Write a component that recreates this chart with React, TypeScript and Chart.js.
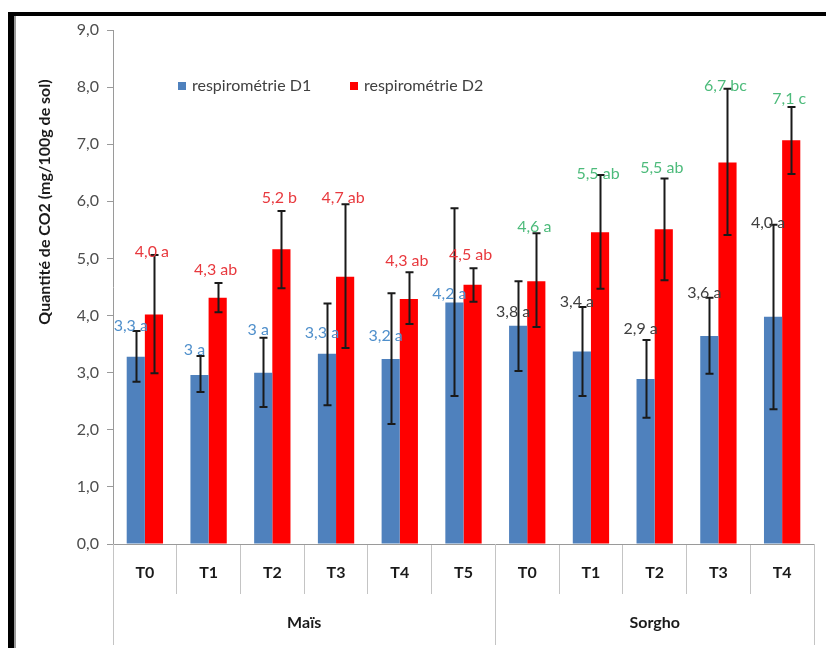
import React, { useEffect, useRef } from "react";
import { Chart, registerables } from "chart.js";

Chart.register(...registerables);

// ---- data ----
const treatments = ["T0", "T1", "T2", "T3", "T4", "T5", "T0", "T1", "T2", "T3", "T4"];
const groupNames = ["Maïs", "Sorgho"];
const groupOfCategory = [0, 0, 0, 0, 0, 0, 1, 1, 1, 1, 1];
const seriesNames = ["respirométrie D1", "respirométrie D2"];
const d1Values = [3.28, 2.96, 3.0, 3.33, 3.24, 4.23, 3.82, 3.37, 2.89, 3.64, 3.98];
const d2Values = [4.02, 4.31, 5.16, 4.68, 4.29, 4.54, 4.6, 5.46, 5.51, 6.68, 7.07];
const d1ErrLow = [2.84, 2.66, 2.4, 2.43, 2.1, 2.59, 3.03, 2.59, 2.21, 2.98, 2.36];
const d1ErrHigh = [3.73, 3.29, 3.61, 4.21, 4.39, 5.88, 4.6, 4.15, 3.57, 4.31, 5.59];
const d2ErrLow = [2.99, 4.06, 4.48, 3.43, 3.85, 4.24, 3.8, 4.47, 4.62, 5.41, 6.48];
const d2ErrHigh = [5.06, 4.57, 5.83, 5.95, 4.76, 4.83, 5.44, 6.46, 6.4, 7.97, 7.65];
const d1Labels = ["3,3 a", "3 a", "3 a", "3,3 a", "3,2 a", "4,2 a", "3,8 a", "3,4 a", "2,9 a", "3,6 a", "4,0 a"];
const d2Labels = ["4,0 a", "4,3 ab", "5,2 b", "4,7 ab", "4,3 ab", "4,5 ab", "4,6 a", "5,5 ab", "5,5 ab", "6,7 bc", "7,1 c"];
const d1LabelAt = [3.82, 3.4, 3.75, 3.7, 3.64, 4.38, 4.06, 4.24, 3.77, 4.4, 5.62];
const d2LabelAt = [5.11, 4.8, 6.06, 6.06, 4.96, 5.06, 5.55, 6.48, 6.58, 8.02, 7.79];
const yMin = 0;
const yMax = 9;
const yStep = 1;
const yTitle = "Quantité de CO2 (mg/100g de sol)";

// ---- styles ----
const FONT = "Lato, 'Open Sans', sans-serif";
const BAR_COLORS = ["#4F81BD", "#FF0000"];
const LABEL_COLORS = [
  ["#4F8FCB", "#E8393E"], // Maïs: D1, D2
  ["#404040", "#4DBB7B"], // Sorgho: D1, D2
];
const AXIS_COLOR = "#9A9A9A";
const DIVIDER_COLOR = "#C4C4C4";

const errData = [
  [d1ErrLow, d1ErrHigh],
  [d2ErrLow, d2ErrHigh],
];
const labelData = [
  [d1Labels, d1LabelAt],
  [d2Labels, d2LabelAt],
];

const decorPlugin = {
  id: "decor",
  afterDatasetsDraw(chart: any) {
    const ctx = chart.ctx;
    const y = chart.scales.y;
    ctx.save();
    // error bars
    for (let d = 0; d < 2; d++) {
      const meta = chart.getDatasetMeta(d);
      meta.data.forEach((bar: any, i: number) => {
        const x = Math.round(bar.x) + 0.5;
        const yl = y.getPixelForValue(errData[d][0][i]);
        const yh = y.getPixelForValue(errData[d][1][i]);
        ctx.strokeStyle = "#1A1A1A";
        ctx.lineWidth = 2;
        ctx.beginPath();
        ctx.moveTo(x, yl);
        ctx.lineTo(x, yh);
        ctx.moveTo(x - 4, yl);
        ctx.lineTo(x + 4, yl);
        ctx.moveTo(x - 4, yh);
        ctx.lineTo(x + 4, yh);
        ctx.stroke();
      });
    }
    // value labels
    ctx.font = `16px ${FONT}`;
    ctx.textAlign = "center";
    ctx.textBaseline = "middle";
    for (let d = 0; d < 2; d++) {
      const meta = chart.getDatasetMeta(d);
      meta.data.forEach((bar: any, i: number) => {
        const g = groupOfCategory[i];
        ctx.fillStyle = LABEL_COLORS[g][d];
        const dx = d === 0 ? -5 : -2;
        ctx.fillText(labelData[d][0][i], bar.x + dx, y.getPixelForValue(labelData[d][1][i]));
      });
    }
    ctx.restore();
  },
  afterDraw(chart: any) {
    const ctx = chart.ctx;
    const x = chart.scales.x;
    const area = chart.chartArea;
    ctx.save();
    // category labels
    ctx.font = `bold 16px ${FONT}`;
    ctx.fillStyle = "#1A1A1A";
    ctx.textAlign = "center";
    ctx.textBaseline = "middle";
    treatments.forEach((t, i) => {
      ctx.fillText(t, x.getPixelForValue(i), area.bottom + 29);
    });
    // group dividers + labels
    const boundaries: number[] = [area.left];
    for (let i = 1; i < treatments.length; i++) {
      if (groupOfCategory[i] !== groupOfCategory[i - 1]) {
        boundaries.push((x.getPixelForValue(i - 1) + x.getPixelForValue(i)) / 2);
      }
    }
    boundaries.push(area.right);
    ctx.strokeStyle = DIVIDER_COLOR;
    ctx.lineWidth = 1;
    ctx.beginPath();
    boundaries.forEach((b) => {
      const bx = Math.round(b) + 0.5;
      ctx.moveTo(bx, area.bottom);
      ctx.lineTo(bx, area.bottom + 101);
    });
    ctx.stroke();
    groupNames.forEach((name, gi) => {
      ctx.fillText(name, (boundaries[gi] + boundaries[gi + 1]) / 2, area.bottom + 79);
    });
    // y axis title
    ctx.save();
    ctx.translate(45, 202);
    ctx.rotate(-Math.PI / 2);
    ctx.font = `bold 16px ${FONT}`;
    ctx.fillStyle = "#1A1A1A";
    ctx.fillText(yTitle, 0, 0);
    ctx.restore();
    // legend
    ctx.font = `16px ${FONT}`;
    ctx.textAlign = "left";
    const legendX = [178, 350];
    const legendY = 86;
    seriesNames.forEach((s, k) => {
      ctx.fillStyle = BAR_COLORS[k];
      ctx.fillRect(legendX[k], legendY - 4, 8, 8);
      ctx.fillStyle = "#404040";
      ctx.fillText(s, legendX[k] + 14, legendY);
    });
    ctx.restore();
  },
};

export default function App() {
  const ref = useRef<HTMLCanvasElement | null>(null);
  useEffect(() => {
    if (!ref.current) return;
    const chart = new Chart(ref.current, {
      type: "bar",
      data: {
        labels: treatments,
        datasets: [
          { label: seriesNames[0], data: d1Values, backgroundColor: BAR_COLORS[0], borderWidth: 0 },
          { label: seriesNames[1], data: d2Values, backgroundColor: BAR_COLORS[1], borderWidth: 0 },
        ],
      },
      options: {
        animation: false,
        responsive: false,
        devicePixelRatio: 1,
        layout: { padding: { left: 0, top: 30, right: 12, bottom: 0 } },
        plugins: { legend: { display: false }, tooltip: { enabled: false } },
        datasets: { bar: { categoryPercentage: 0.57, barPercentage: 1 } },
        scales: {
          x: {
            type: "category",
            offset: true,
            ticks: { display: false },
            grid: {
              offset: true,
              drawOnChartArea: false,
              drawTicks: true,
              tickLength: 50,
              color: DIVIDER_COLOR,
            },
            border: { display: true, color: AXIS_COLOR, width: 1 },
            afterFit: (s: any) => {
              s.height = 104;
            },
          },
          y: {
            min: yMin,
            max: yMax,
            ticks: {
              stepSize: yStep,
              padding: 8,
              color: "#4D4D4D",
              font: { family: FONT, size: 16 },
              callback: (v: any) => Number(v).toFixed(1).replace(".", ","),
            },
            grid: {
              drawOnChartArea: false,
              drawTicks: true,
              tickLength: 6,
              color: AXIS_COLOR,
            },
            border: { display: true, color: AXIS_COLOR, width: 1 },
            afterFit: (s: any) => {
              s.width = 113;
            },
          },
        },
      },
      plugins: [decorPlugin],
    });
    return () => chart.destroy();
  }, []);

  return (
    <div style={{ position: "fixed", left: 0, top: 0, width: 826, height: 648, background: "#fff", overflow: "hidden" }}>
      <canvas ref={ref} width={826} height={648} style={{ position: "absolute", left: 0, top: 0, width: 826, height: 648 }} />
      <div style={{ position: "absolute", left: 8, top: 12, width: 818, height: 4, background: "#000" }} />
      <div style={{ position: "absolute", left: 8, top: 12, width: 6, height: 636, background: "#000" }} />
      <div style={{ position: "absolute", left: 14, top: 16, width: 2, height: 632, background: "#9A9A9A" }} />
    </div>
  );
}
